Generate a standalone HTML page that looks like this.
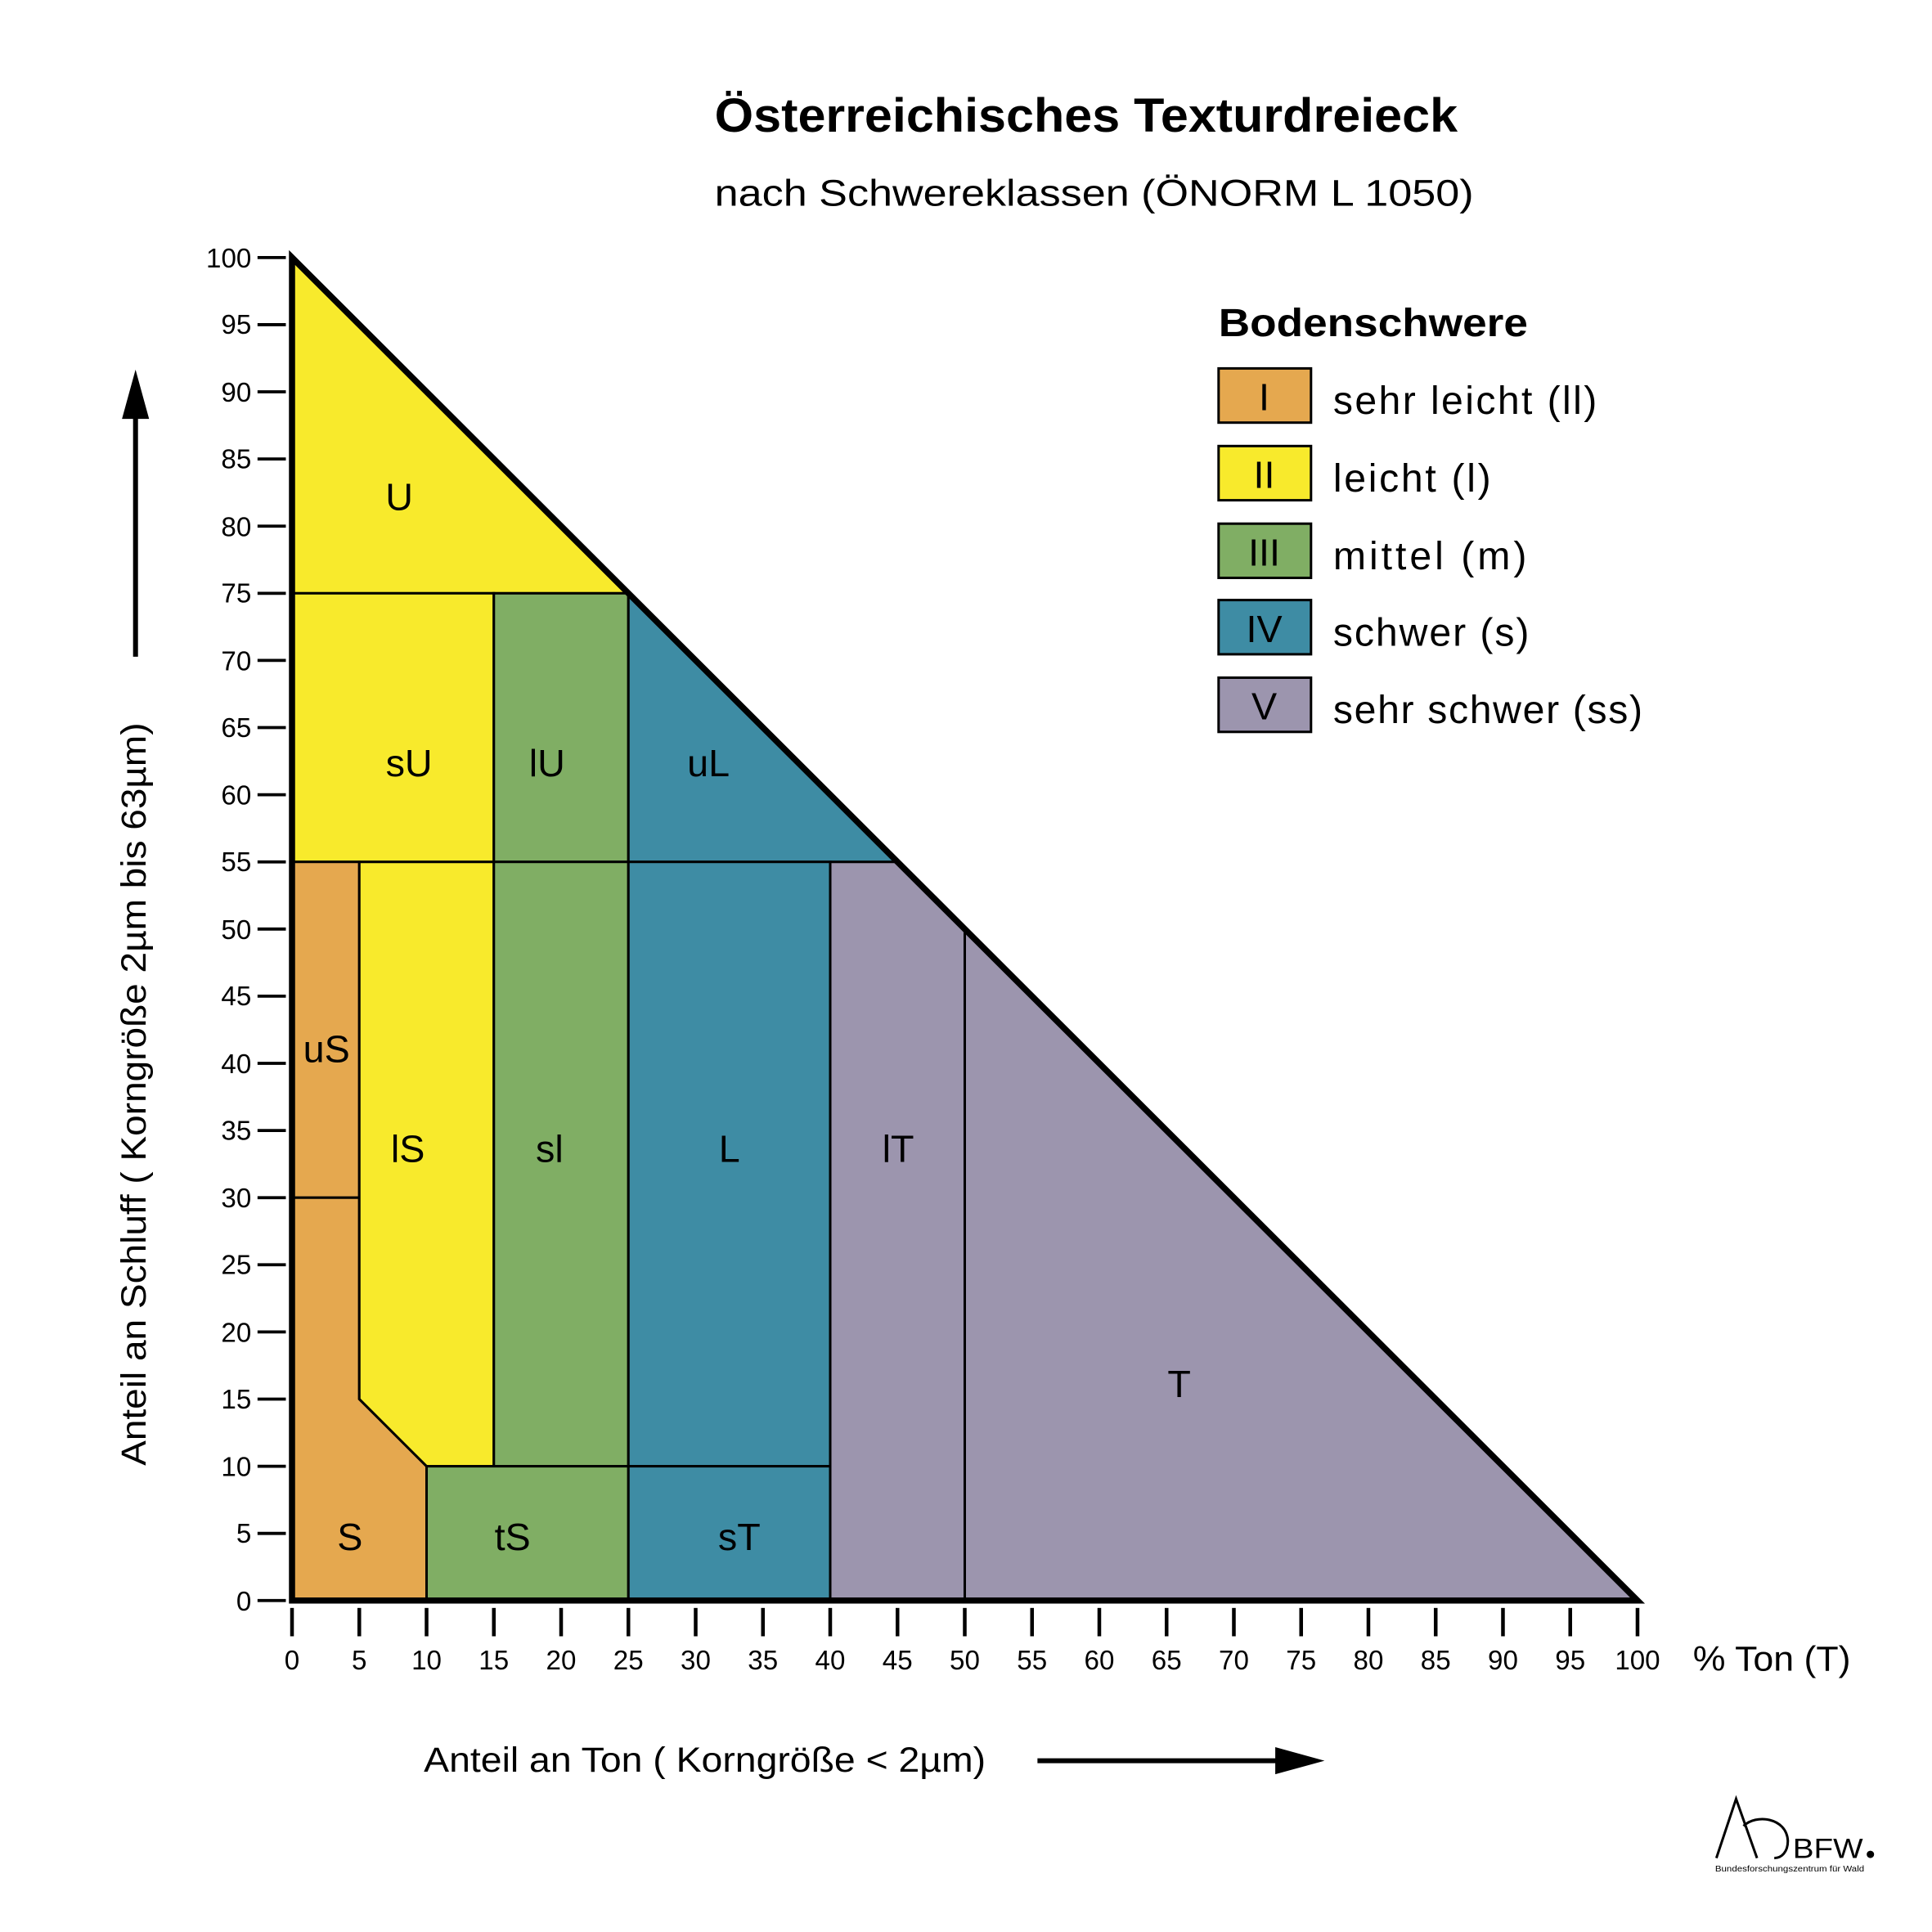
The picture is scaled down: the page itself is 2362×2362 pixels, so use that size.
<!DOCTYPE html>
<html><head><meta charset="utf-8"><style>html,body{margin:0;padding:0;background:#fff}svg{display:block}</style></head>
<body>
<svg xmlns="http://www.w3.org/2000/svg" width="2362" height="2362" viewBox="0 0 1568 1568" font-family="Liberation Sans, sans-serif">
<rect width="1568" height="1568" fill="#fff"/>
<text x="580" y="107" font-size="39" font-weight="bold" textLength="603" lengthAdjust="spacingAndGlyphs">Österreichisches Texturdreieck</text>
<text x="580" y="167" font-size="30" textLength="616" lengthAdjust="spacingAndGlyphs">nach Schwereklassen (ÖNORM L 1050)</text>
<g stroke="#000" stroke-width="2">
<polygon points="237,209 237,481.5 510,481.5" fill="#F8EA2C"/>
<rect x="237" y="481.5" width="163.8" height="218" fill="#F8EA2C"/>
<rect x="400.8" y="481.5" width="109.2" height="218" fill="#80AE64"/>
<polygon points="510,481.5 510,699.5 728.4,699.5" fill="#3E8CA4"/>
<rect x="237" y="699.5" width="54.6" height="272.5" fill="#E5A84F"/>
<polygon points="237,972 291.6,972 291.6,1135.5 346.2,1190 346.2,1299 237,1299" fill="#E5A84F"/>
<polygon points="291.6,699.5 400.8,699.5 400.8,1190 346.2,1190 291.6,1135.5" fill="#F8EA2C"/>
<rect x="400.8" y="699.5" width="109.2" height="490.5" fill="#80AE64"/>
<rect x="346.2" y="1190" width="163.8" height="109" fill="#80AE64"/>
<rect x="510" y="699.5" width="163.8" height="490.5" fill="#3E8CA4"/>
<rect x="510" y="1190" width="163.8" height="109" fill="#3E8CA4"/>
<polygon points="673.8,699.5 728.4,699.5 783,754.5 783,1299 673.8,1299" fill="#9C95AE"/>
<polygon points="783,754.5 1329,1299 783,1299" fill="#9C95AE"/>
</g>
<polygon points="237,209 1329,1299 237,1299" fill="none" stroke="#000" stroke-width="5" stroke-linejoin="miter"/>
<g font-size="31" text-anchor="middle">
<text x="324" y="414">U</text><text x="332" y="630">sU</text><text x="444" y="630">lU</text><text x="575" y="630">uL</text>
<text x="265" y="862">uS</text><text x="331" y="943">lS</text><text x="446" y="943">sl</text><text x="592" y="943">L</text><text x="729" y="943">lT</text>
<text x="957" y="1134">T</text><text x="284" y="1258">S</text><text x="416" y="1258">tS</text><text x="600" y="1258">sT</text>
</g>
<g stroke="#000" stroke-width="2.5">
<line x1="209" x2="232" y1="1299" y2="1299"/><line x1="209" x2="232" y1="1244.5" y2="1244.5"/><line x1="209" x2="232" y1="1190" y2="1190"/><line x1="209" x2="232" y1="1135.5" y2="1135.5"/><line x1="209" x2="232" y1="1081" y2="1081"/><line x1="209" x2="232" y1="1026.5" y2="1026.5"/><line x1="209" x2="232" y1="972" y2="972"/><line x1="209" x2="232" y1="917.5" y2="917.5"/><line x1="209" x2="232" y1="863" y2="863"/><line x1="209" x2="232" y1="808.5" y2="808.5"/><line x1="209" x2="232" y1="754" y2="754"/><line x1="209" x2="232" y1="699.5" y2="699.5"/><line x1="209" x2="232" y1="645" y2="645"/><line x1="209" x2="232" y1="590.5" y2="590.5"/><line x1="209" x2="232" y1="536" y2="536"/><line x1="209" x2="232" y1="481.5" y2="481.5"/><line x1="209" x2="232" y1="427" y2="427"/><line x1="209" x2="232" y1="372.5" y2="372.5"/><line x1="209" x2="232" y1="318" y2="318"/><line x1="209" x2="232" y1="263.5" y2="263.5"/><line x1="209" x2="232" y1="209" y2="209"/>
</g>
<g font-size="22" text-anchor="end">
<text x="204" y="1307">0</text><text x="204" y="1252">5</text><text x="204" y="1198">10</text><text x="204" y="1143">15</text><text x="204" y="1089">20</text><text x="204" y="1034">25</text><text x="204" y="980">30</text><text x="204" y="925">35</text><text x="204" y="871">40</text><text x="204" y="816">45</text><text x="204" y="762">50</text><text x="204" y="707">55</text><text x="204" y="653">60</text><text x="204" y="598">65</text><text x="204" y="544">70</text><text x="204" y="489">75</text><text x="204" y="435">80</text><text x="204" y="380">85</text><text x="204" y="326">90</text><text x="204" y="271">95</text><text x="204" y="217">100</text>
</g>
<g stroke="#000" stroke-width="3">
<line x1="237" x2="237" y1="1305" y2="1328"/><line x1="291.6" x2="291.6" y1="1305" y2="1328"/><line x1="346.2" x2="346.2" y1="1305" y2="1328"/><line x1="400.8" x2="400.8" y1="1305" y2="1328"/><line x1="455.4" x2="455.4" y1="1305" y2="1328"/><line x1="510" x2="510" y1="1305" y2="1328"/><line x1="564.6" x2="564.6" y1="1305" y2="1328"/><line x1="619.2" x2="619.2" y1="1305" y2="1328"/><line x1="673.8" x2="673.8" y1="1305" y2="1328"/><line x1="728.4" x2="728.4" y1="1305" y2="1328"/><line x1="783" x2="783" y1="1305" y2="1328"/><line x1="837.6" x2="837.6" y1="1305" y2="1328"/><line x1="892.2" x2="892.2" y1="1305" y2="1328"/><line x1="946.8" x2="946.8" y1="1305" y2="1328"/><line x1="1001.4" x2="1001.4" y1="1305" y2="1328"/><line x1="1056" x2="1056" y1="1305" y2="1328"/><line x1="1110.6" x2="1110.6" y1="1305" y2="1328"/><line x1="1165.2" x2="1165.2" y1="1305" y2="1328"/><line x1="1219.8" x2="1219.8" y1="1305" y2="1328"/><line x1="1274.4" x2="1274.4" y1="1305" y2="1328"/><line x1="1329" x2="1329" y1="1305" y2="1328"/>
</g>
<g font-size="22" text-anchor="middle">
<text x="237" y="1355">0</text><text x="291.6" y="1355">5</text><text x="346.2" y="1355">10</text><text x="400.8" y="1355">15</text><text x="455.4" y="1355">20</text><text x="510" y="1355">25</text><text x="564.6" y="1355">30</text><text x="619.2" y="1355">35</text><text x="673.8" y="1355">40</text><text x="728.4" y="1355">45</text><text x="783" y="1355">50</text><text x="837.6" y="1355">55</text><text x="892.2" y="1355">60</text><text x="946.8" y="1355">65</text><text x="1001.4" y="1355">70</text><text x="1056" y="1355">75</text><text x="1110.6" y="1355">80</text><text x="1165.2" y="1355">85</text><text x="1219.8" y="1355">90</text><text x="1274.4" y="1355">95</text><text x="1329" y="1355">100</text>
</g>
<text x="1374" y="1356" font-size="28" textLength="128" lengthAdjust="spacingAndGlyphs">% Ton (T)</text>
<text x="344" y="1438" font-size="28" textLength="456" lengthAdjust="spacingAndGlyphs">Anteil an Ton ( Korngröße &lt; 2µm)</text>
<line x1="842" y1="1429" x2="1040" y2="1429" stroke="#000" stroke-width="4"/>
<polygon points="1035,1418 1075,1429 1035,1440" fill="#000"/>
<line x1="110" y1="533" x2="110" y2="335" stroke="#000" stroke-width="4"/>
<polygon points="99,340 110,300 121,340" fill="#000"/>
<text transform="translate(118,888) rotate(-90)" font-size="28" text-anchor="middle" textLength="603" lengthAdjust="spacingAndGlyphs">Anteil an Schluff ( Korngröße 2µm bis 63µm)</text>
<text x="989" y="273" font-size="32" font-weight="bold" textLength="251" lengthAdjust="spacingAndGlyphs">Bodenschwere</text>
<g stroke="#000" stroke-width="2">
<rect x="989" y="299" width="75" height="44" fill="#E5A84F"/>
<rect x="989" y="362" width="75" height="44" fill="#F8EA2C"/>
<rect x="989" y="425" width="75" height="44" fill="#80AE64"/>
<rect x="989" y="487" width="75" height="44" fill="#3E8CA4"/>
<rect x="989" y="550" width="75" height="44" fill="#9C95AE"/>
</g>
<g font-size="31" text-anchor="middle">
<text x="1026" y="333">I</text><text x="1026" y="396">II</text><text x="1026" y="459">III</text><text x="1026" y="521">IV</text><text x="1026" y="584">V</text>
</g>
<g font-size="32" lengthAdjust="spacingAndGlyphs">
<text x="1082" y="336" textLength="214">sehr leicht (ll)</text><text x="1082" y="399" textLength="128">leicht (l)</text><text x="1082" y="462" textLength="157">mittel (m)</text><text x="1082" y="524" textLength="159">schwer (s)</text><text x="1082" y="587" textLength="251">sehr schwer (ss)</text>
</g>
<g stroke="#000" stroke-width="2" fill="none">
<polyline points="1393,1508 1409,1460 1426,1508"/>
<path d="M1415,1482 C 1425,1472 1450,1475 1451,1494 C 1451,1503 1446,1508 1440,1508"/>
</g>
<text x="1455" y="1508" font-size="23" textLength="57" lengthAdjust="spacingAndGlyphs">BFW</text>
<circle cx="1518" cy="1505" r="3" fill="#000"/>
<text x="1392" y="1519" font-size="7" textLength="121" lengthAdjust="spacingAndGlyphs">Bundesforschungszentrum für Wald</text>
</svg>
</body></html>
